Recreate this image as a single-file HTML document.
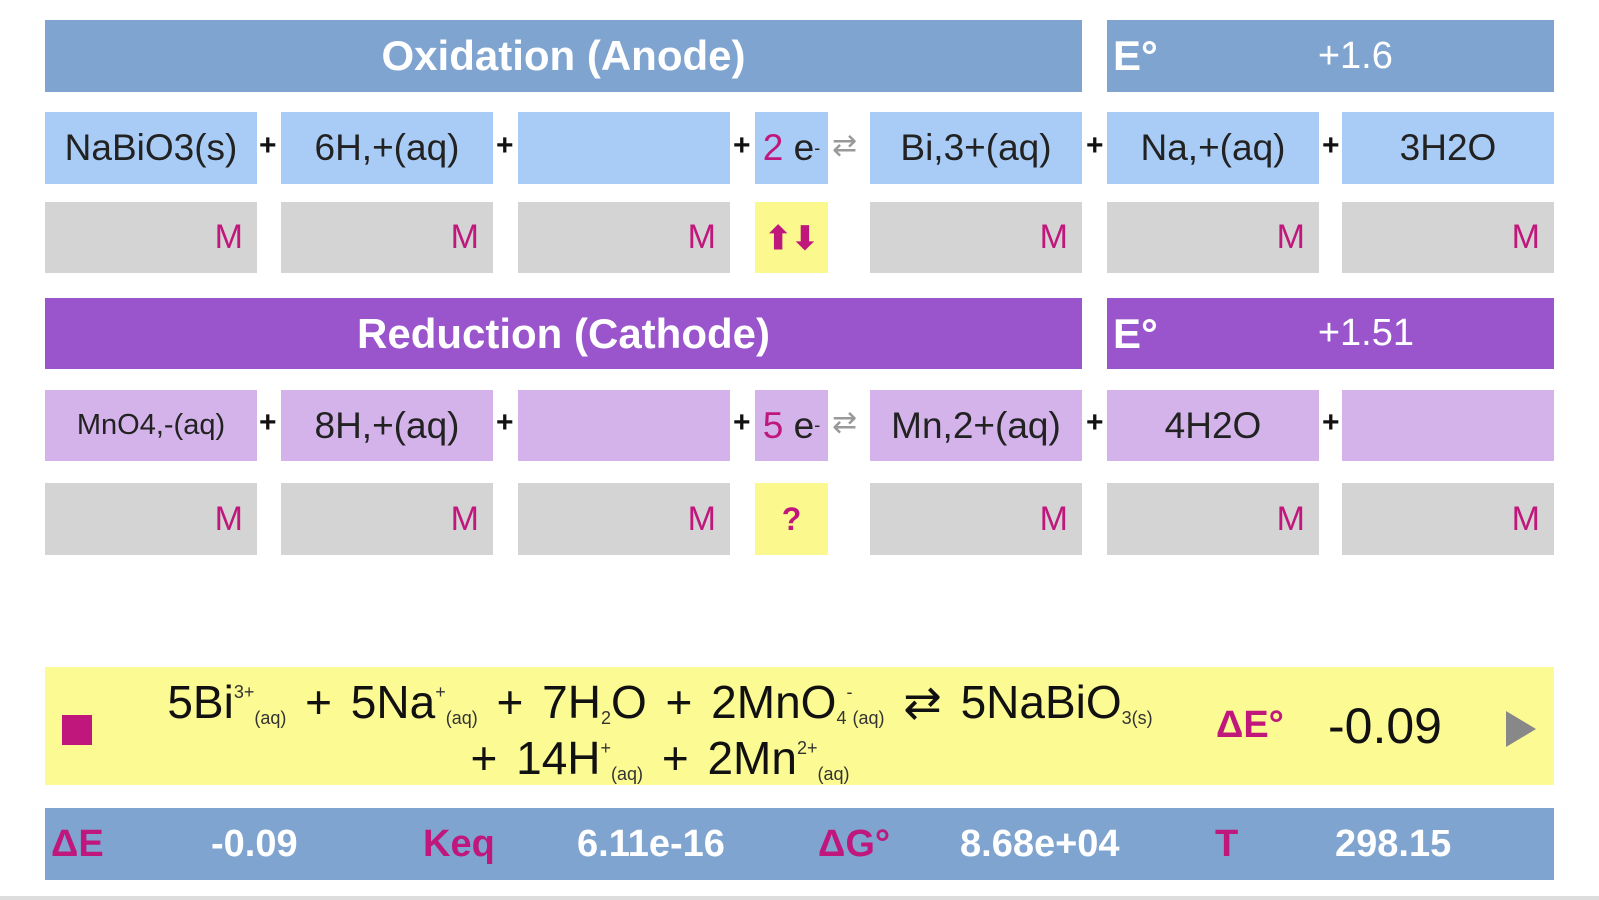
<!DOCTYPE html><html><head><style>
body{margin:0;width:1599px;height:900px;background:#fff;position:relative;overflow:hidden;font-family:"Liberation Sans",sans-serif;}
.b{position:absolute;display:flex;align-items:center;justify-content:center;box-sizing:border-box;}
.hb{background:#7fa4d0;color:#fff;font-weight:bold;font-size:42px;}
.hp{background:#9a54cc;color:#fff;font-weight:bold;font-size:42px;}
.lb{background:#a9ccf6;color:#222;font-size:37px;}
.lp{background:#d3b3ea;color:#222;font-size:37px;}
.g{background:#d4d4d4;color:#c0177c;font-size:34px;justify-content:flex-end;padding-right:14px;}
.y{background:#fbf98e;color:#c0177c;font-size:32px;font-weight:bold;}
.pl{position:absolute;font-size:30px;font-weight:bold;color:#111;}
.m{color:#c0177c}
.eq sup,.eq sub{font-size:18px;line-height:0;color:#333}
.eq sup{vertical-align:20px}
.eq sub{vertical-align:-6px}
</style></head><body>
<div class="b hb" style="left:45px;top:20px;width:1037px;height:72px">Oxidation (Anode)</div>
<div class="b hb" style="left:1107px;top:20px;width:447px;height:72px;justify-content:flex-start;padding-left:6px">E°<span style="margin-left:160px;font-weight:normal;font-size:38px">+1.6</span></div>
<div class="b lb" style="left:45px;top:112px;width:212px;height:72px">NaBiO3(s)</div>
<div class="b lb" style="left:281px;top:112px;width:212px;height:72px">6H,+(aq)</div>
<div class="b lb" style="left:518px;top:112px;width:212px;height:72px"></div>
<div class="b lb" style="left:755px;top:112px;width:73px;height:72px"><span class="m">2</span>&nbsp;e<sup style="font-size:18px">-</sup></div>
<div class="b lb" style="left:870px;top:112px;width:212px;height:72px">Bi,3+(aq)</div>
<div class="b lb" style="left:1107px;top:112px;width:212px;height:72px">Na,+(aq)</div>
<div class="b lb" style="left:1342px;top:112px;width:212px;height:72px">3H2O</div>
<div class="pl" style="left:259px;top:129px">+</div><div class="pl" style="left:496px;top:129px">+</div><div class="pl" style="left:733px;top:129px">+</div><div class="pl" style="left:1086px;top:129px">+</div><div class="pl" style="left:1322px;top:129px">+</div>
<div class="pl" style="left:832px;top:128px;color:#999;font-weight:normal">⇄</div>
<div class="b g" style="left:45px;top:202px;width:212px;height:71px">M</div>
<div class="b g" style="left:281px;top:202px;width:212px;height:71px">M</div>
<div class="b g" style="left:518px;top:202px;width:212px;height:71px">M</div>
<div class="b y" style="left:755px;top:202px;width:73px;height:71px">⬆⬇</div>
<div class="b g" style="left:870px;top:202px;width:212px;height:71px">M</div>
<div class="b g" style="left:1107px;top:202px;width:212px;height:71px">M</div>
<div class="b g" style="left:1342px;top:202px;width:212px;height:71px">M</div>

<div class="b hp" style="left:45px;top:298px;width:1037px;height:71px">Reduction (Cathode)</div>
<div class="b hp" style="left:1107px;top:298px;width:447px;height:71px;justify-content:flex-start;padding-left:6px">E°<span style="margin-left:160px;font-weight:normal;font-size:38px">+1.51</span></div>
<div class="b lp" style="left:45px;top:390px;width:212px;height:71px;font-size:29px">MnO4,-(aq)</div>
<div class="b lp" style="left:281px;top:390px;width:212px;height:71px">8H,+(aq)</div>
<div class="b lp" style="left:518px;top:390px;width:212px;height:71px"></div>
<div class="b lp" style="left:755px;top:390px;width:73px;height:71px"><span class="m">5</span>&nbsp;e<sup style="font-size:18px">-</sup></div>
<div class="b lp" style="left:870px;top:390px;width:212px;height:71px">Mn,2+(aq)</div>
<div class="b lp" style="left:1107px;top:390px;width:212px;height:71px">4H2O</div>
<div class="b lp" style="left:1342px;top:390px;width:212px;height:71px"></div>
<div class="pl" style="left:259px;top:406px">+</div><div class="pl" style="left:496px;top:406px">+</div><div class="pl" style="left:733px;top:406px">+</div><div class="pl" style="left:1086px;top:406px">+</div><div class="pl" style="left:1322px;top:406px">+</div>
<div class="pl" style="left:832px;top:405px;color:#999;font-weight:normal">⇄</div>
<div class="b g" style="left:45px;top:483px;width:212px;height:72px">M</div>
<div class="b g" style="left:281px;top:483px;width:212px;height:72px">M</div>
<div class="b g" style="left:518px;top:483px;width:212px;height:72px">M</div>
<div class="b y" style="left:755px;top:483px;width:73px;height:72px">?</div>
<div class="b g" style="left:870px;top:483px;width:212px;height:72px">M</div>
<div class="b g" style="left:1107px;top:483px;width:212px;height:72px">M</div>
<div class="b g" style="left:1342px;top:483px;width:212px;height:72px">M</div>

<div style="position:absolute;left:45px;top:667px;width:1509px;height:118px;background:#fcfa93"></div>
<div style="position:absolute;left:62px;top:715px;width:30px;height:30px;background:#c0177c"></div>
<div class="eq" style="position:absolute;left:100px;top:674px;width:1120px;font-size:46px;word-spacing:6px;color:#111;text-align:center;line-height:56px;white-space:nowrap">5Bi<sup>3+</sup><sub>(aq)</sub> + 5Na<sup>+</sup><sub>(aq)</sub> + 7H<sub>2</sub>O + 2MnO<sub>4</sub><sup>-</sup><sub>(aq)</sub> ⇄ 5NaBiO<sub>3(s)</sub><br>+ 14H<sup>+</sup><sub>(aq)</sub> + 2Mn<sup>2+</sup><sub>(aq)</sub></div>
<div style="position:absolute;left:1216px;top:704px;font-size:38px;font-weight:bold;color:#c0177c">ΔE°</div>
<div style="position:absolute;left:1328px;top:697px;font-size:50px;color:#111">-0.09</div>
<div style="position:absolute;left:1506px;top:711px;width:0;height:0;border-left:30px solid #888;border-top:18px solid transparent;border-bottom:18px solid transparent"></div>

<div style="position:absolute;left:45px;top:808px;width:1509px;height:72px;background:#7fa4d0;font-size:38px;font-weight:bold">
<span style="position:absolute;left:6px;top:15px;color:#c0177c">ΔE</span>
<span style="position:absolute;left:166px;top:15px;color:#fff">-0.09</span>
<span style="position:absolute;left:378px;top:15px;color:#c0177c">Keq</span>
<span style="position:absolute;left:532px;top:15px;color:#fff">6.11e-16</span>
<span style="position:absolute;left:773px;top:15px;color:#c0177c">ΔG°</span>
<span style="position:absolute;left:915px;top:15px;color:#fff">8.68e+04</span>
<span style="position:absolute;left:1170px;top:15px;color:#c0177c">T</span>
<span style="position:absolute;left:1290px;top:15px;color:#fff">298.15</span>
</div>
<div style="position:absolute;left:0;top:896px;width:1599px;height:4px;background:#ddd"></div>
</body></html>
